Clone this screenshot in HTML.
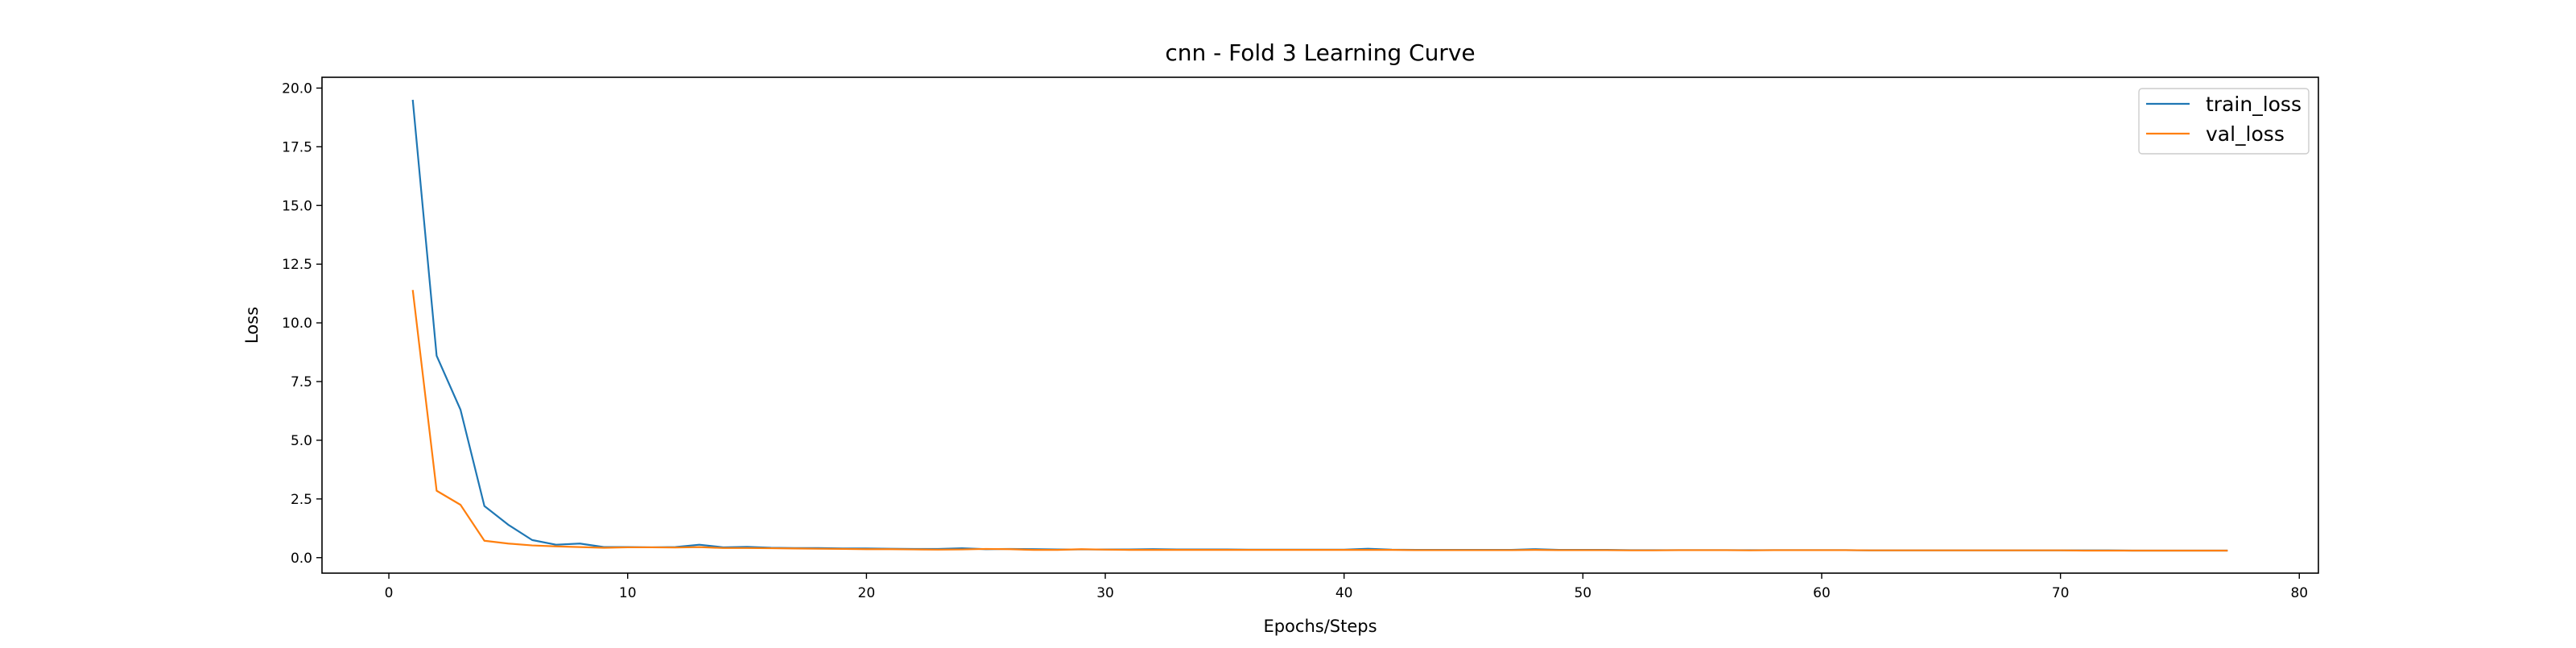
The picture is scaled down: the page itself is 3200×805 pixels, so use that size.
<!DOCTYPE html>
<html><head><meta charset="utf-8"><style>
html,body{margin:0;padding:0;background:#fff;}
svg text{font-family:"DejaVu Sans","Liberation Sans",sans-serif;fill:#000;}
</style></head><body>
<svg id="chart" width="3200" height="800" xmlns="http://www.w3.org/2000/svg">
<rect x="0" y="0" width="3200" height="800" fill="#fff"/>
<text x="1640" y="75" font-size="28" text-anchor="middle">cnn - Fold 3 Learning Curve</text>
<text x="1640" y="785" font-size="21" text-anchor="middle">Epochs/Steps</text>
<text x="0" y="0" font-size="21" text-anchor="middle" transform="translate(320,404) rotate(-90)">Loss</text>
<g id="ticks"></g>
<g id="lines"></g>
<rect x="400" y="96" width="2480" height="616" fill="none" stroke="#000" stroke-width="1.6"/>
<g>
<rect x="2657" y="110" width="211" height="81" rx="4" fill="#fff" fill-opacity="0.8" stroke="#ccc" stroke-width="1.4"/>
<line x1="2666" y1="129" x2="2720" y2="129" stroke="#1f77b4" stroke-width="2.2"/>
<text x="2740" y="138" font-size="25">train_loss</text>
<line x1="2666" y1="166" x2="2720" y2="166" stroke="#ff7f0e" stroke-width="2.2"/>
<text x="2740" y="175" font-size="25">val_loss</text>
</g>
</svg>
<script>
const trainLoss = [19.5,8.6,6.3,2.2,1.4,0.75,0.55,0.6,0.45,0.45,0.44,0.45,0.55,0.44,0.46,0.42,0.41,0.41,0.39,0.39,0.38,0.37,0.37,0.4,0.36,0.37,0.36,0.35,0.35,0.35,0.35,0.36,0.35,0.35,0.35,0.34,0.34,0.34,0.34,0.34,0.38,0.34,0.33,0.33,0.33,0.33,0.33,0.36,0.33,0.33,0.33,0.32,0.32,0.32,0.32,0.32,0.32,0.32,0.32,0.32,0.32,0.31,0.31,0.31,0.31,0.31,0.31,0.31,0.31,0.31,0.31,0.31,0.3,0.3,0.3,0.3,0.3];
const valLoss = [11.4,2.85,2.25,0.72,0.6,0.52,0.48,0.45,0.42,0.44,0.44,0.43,0.45,0.41,0.41,0.4,0.39,0.38,0.37,0.36,0.36,0.35,0.34,0.35,0.37,0.36,0.33,0.33,0.36,0.34,0.33,0.33,0.33,0.33,0.33,0.33,0.33,0.33,0.33,0.33,0.33,0.33,0.32,0.32,0.32,0.32,0.32,0.33,0.32,0.32,0.32,0.31,0.31,0.32,0.32,0.32,0.31,0.32,0.32,0.32,0.32,0.31,0.31,0.31,0.31,0.31,0.31,0.31,0.31,0.31,0.3,0.3,0.3,0.3,0.3,0.3,0.3];
const xTicks = [0,10,20,30,40,50,60,70,80];
const yTicks = [0,2.5,5,7.5,10,12.5,15,17.5,20];
const yTickLabels = ["0.0","2.5","5.0","7.5","10.0","12.5","15.0","17.5","20.0"];

const NS = "http://www.w3.org/2000/svg";
const L=400,R=2880,T=96,B=712;
const n = trainLoss.length;
const xmin0=1,xmax0=n, xpad=(xmax0-xmin0)*0.05;
const XMIN=xmin0-xpad, XMAX=xmax0+xpad;
const all=trainLoss.concat(valLoss);
const ymn=Math.min(...all), ymx=Math.max(...all), ypad=(ymx-ymn)*0.05;
const YMIN=ymn-ypad, YMAX=ymx+ypad;
function sx(v){return L+(v-XMIN)/(XMAX-XMIN)*(R-L);}
function sy(v){return B-(v-YMIN)/(YMAX-YMIN)*(B-T);}
const tg=document.getElementById('ticks');
xTicks.forEach(t=>{
  const x=sx(t);
  const ln=document.createElementNS(NS,'line');
  ln.setAttribute('x1',x);ln.setAttribute('x2',x);ln.setAttribute('y1',B);ln.setAttribute('y2',B+7);
  ln.setAttribute('stroke','#000');ln.setAttribute('stroke-width','1.4');
  
  
  tg.appendChild(ln);
  const tx=document.createElementNS(NS,'text');
  tx.setAttribute('x',x);tx.setAttribute('y',B+30);tx.setAttribute('font-size','17');tx.setAttribute('text-anchor','middle');
  tx.textContent=String(t);
  
  
  tg.appendChild(tx);
});
yTicks.forEach((t,i)=>{
  const y=sy(t);
  const ln=document.createElementNS(NS,'line');
  ln.setAttribute('x1',L-7);ln.setAttribute('x2',L);ln.setAttribute('y1',y);ln.setAttribute('y2',y);
  ln.setAttribute('stroke','#000');ln.setAttribute('stroke-width','1.4');
  
  
  tg.appendChild(ln);
  const tx=document.createElementNS(NS,'text');
  tx.setAttribute('x',L-12);tx.setAttribute('y',y+6);tx.setAttribute('font-size','17');tx.setAttribute('text-anchor','end');
  tx.textContent=yTickLabels[i];
  
  
  tg.appendChild(tx);
});
const lg=document.getElementById('lines');
function drawSeries(arr,color,name){
  const p=document.createElementNS(NS,'polyline');
  p.setAttribute('points',arr.map((v,i)=>sx(i+1).toFixed(2)+','+sy(v).toFixed(2)).join(' '));
  p.setAttribute('fill','none');p.setAttribute('stroke',color);p.setAttribute('stroke-width','2.2');
  p.setAttribute('stroke-linejoin','round');
  
  
  lg.appendChild(p);
}
drawSeries(trainLoss,'#1f77b4','train-loss-line');
drawSeries(valLoss,'#ff7f0e','val-loss-line');
</script>
</body></html>
